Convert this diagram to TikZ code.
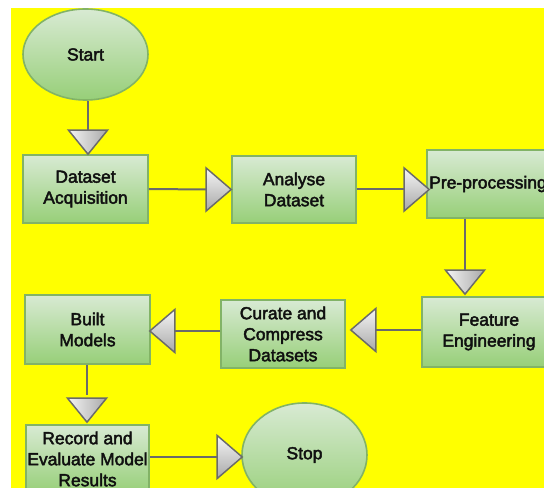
\documentclass[tikz,border=0pt]{standalone}
\usepackage{fontspec}
\newfontfamily\flowfont{Liberation Sans}[FakeBold=2.5]
\usetikzlibrary{shapes.geometric,calc}

\definecolor{pagebg}{HTML}{FFFF00}
\definecolor{boxtop}{HTML}{D8EAD3}
\definecolor{boxbot}{HTML}{97CF78}
\definecolor{boxedge}{HTML}{82B366}
\definecolor{linegray}{HTML}{6A6A6A}
\definecolor{tiplight}{HTML}{F5F5F5}
\definecolor{tipdark}{HTML}{A8A8A8}
\definecolor{inkcol}{HTML}{101010}

\tikzset{
  flowbox/.style={rectangle, draw=boxedge, line width=1.2pt,
    top color=boxtop, bottom color=boxbot, align=center, inner sep=0pt,
    text=inkcol, font=\flowfont\fontsize{13.1pt}{15.75pt}\selectfont,
    minimum width=93.75pt, minimum height=51pt},
  terminal/.style={flowbox, ellipse},
  conn/.style={draw=linegray, line width=1.5pt},
  tipshape/.style={draw=linegray, line width=1.1pt, line join=miter},
  tipD/.pic={\shade[tipshape, left color=tiplight, right color=tipdark]
    (0,0) -- (-19.5,-24) -- (19.5,-24) -- cycle;},
  tipR/.pic={\shade[tipshape, top color=tiplight, bottom color=tipdark]
    (0,0) -- (-25,-21.5) -- (-25,21.5) -- cycle;},
  tipL/.pic={\shade[tipshape, top color=tiplight, bottom color=tipdark]
    (0,0) -- (25,-21.5) -- (25,21.5) -- cycle;},
}

\begin{document}
\begin{tikzpicture}[x=0.75pt, y=-0.75pt]
  \useasboundingbox (0,0) rectangle (544,488);
  \clip (0,0) rectangle (544,488);
  \fill[white] (0,0) rectangle (544,488);
  \fill[pagebg] (11,8) rectangle (544,488);

  % steps of the workflow
  \node[terminal, minimum width=93.75pt, minimum height=68.25pt] (start) at (85.5,54.5) {Start};
  \node[flowbox] (acq) at (85.5,189) {Dataset\\Acquisition};
  \node[flowbox, minimum width=93pt, minimum height=50.25pt] (ana) at (294,189.5) {Analyse\\Dataset};
  \node[flowbox, minimum width=91.5pt] (pre) at (488,184) {Pre-processing};
  \node[flowbox, minimum width=100.5pt, minimum height=52.5pt] (feat) at (489,332) {Feature\\Engineering};
  \node[flowbox, minimum width=93pt] (cur) at (283,334) {Curate and\\Compress\\Datasets};
  \node[flowbox, minimum height=51.75pt] (built) at (87.5,329.5) {Built\\Models};
  \node[flowbox, minimum width=92.25pt] (rec) at (87.5,459) {Record and\\Evaluate Model\\Results};
  \node[terminal, minimum width=93.75pt, minimum height=78pt] (stop) at (304.5,455) {Stop};

  % connectors with large shaded heads
  \draw[conn] ($(start.south)+(2.5,0)$) -- ($(acq.north)+(2.5,-24)$);
  \pic at ($(acq.north)+(2.5,0)$) {tipD};

  \draw[conn] (acq.east) -- ($(ana.west)+(-25,0)$);
  \pic at (ana.west) {tipR};

  \draw[conn] (ana.east) -- ($(ana.east -| pre.west)+(-22,0)$);
  \pic at ($(ana.east -| pre.west)+(3,0)$) {tipR};

  \draw[conn] ($(pre.south)+(-23,0)$) -- ($(feat.north)+(-24,-26)$);
  \pic at ($(feat.north)+(-24,-2)$) {tipD};

  \draw[conn] ($(feat.west)+(0,-2)$) -- ($(cur.east)+(30,-4)$);
  \pic at ($(cur.east)+(5,-4)$) {tipL};

  \draw[conn] ($(cur.west)+(0,-3)$) -- ($(built.east)+(24,1.5)$);
  \pic at ($(built.east)+(-1,1.5)$) {tipL};

  \draw[conn] ($(built.south)+(-0.5,0)$) -- ($(rec.north)+(-0.5,-29)$);
  \pic at ($(rec.north)+(-0.5,-2)$) {tipD};

  \draw[conn] ($(rec.east)+(0,-2)$) -- ($(stop.west)+(-24,2)$);
  \pic at ($(stop.west)+(1,2)$) {tipR};
\end{tikzpicture}
\end{document}
